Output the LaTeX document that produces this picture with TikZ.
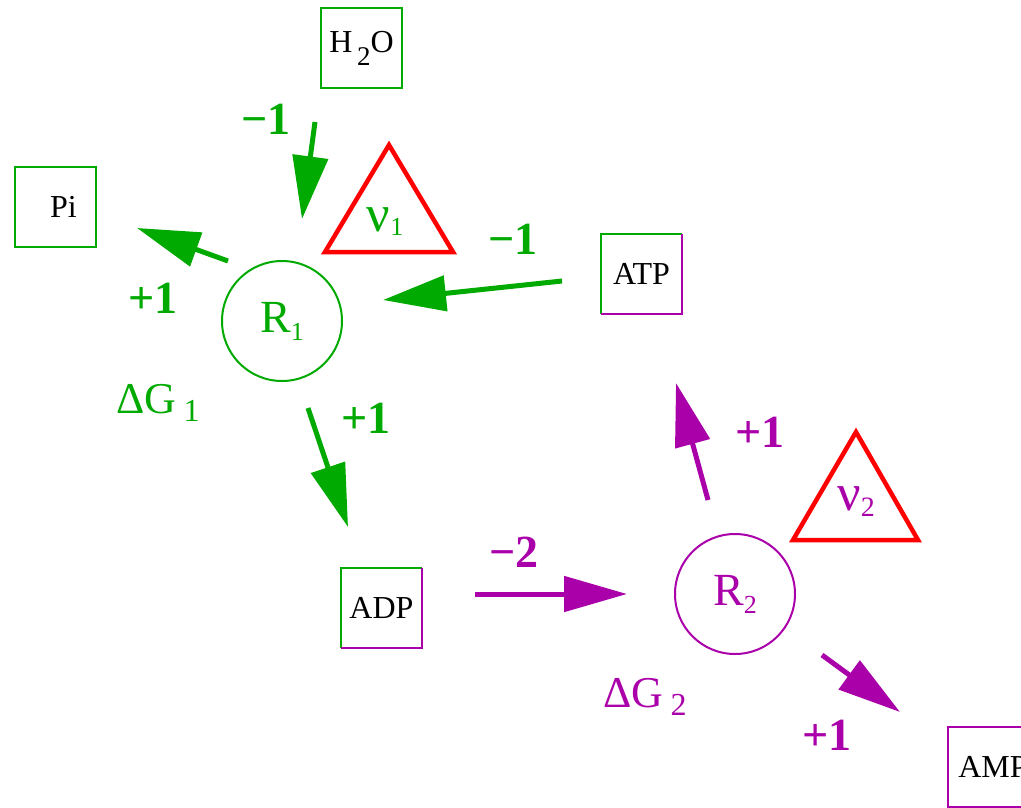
\documentclass[tikz,border=0pt]{standalone}
\usepackage{fontspec}
\setmainfont{Liberation Serif}
\usetikzlibrary{arrows.meta}

\definecolor{grn}{RGB}{0,170,0}
\definecolor{mag}{RGB}{170,0,170}

% lowered small index (subscripts)
\newcommand{\lowidx}[3]{\raisebox{-#1}{\fontsize{#2}{#2}\selectfont #3}}

\tikzset{
	box/.style={minimum width=81pt, minimum height=80pt, inner sep=0pt, font=\fontsize{32}{32}\selectfont},
	rxn/.style={circle, draw, line width=2pt, minimum size=120pt, inner sep=0pt, font=\fontsize{46}{46}\selectfont},
	flux/.style={line width=5pt, -{Triangle[length=63pt,width=35pt]}},
	coef/.style={font=\bfseries\fontsize{46}{46}\selectfont},
	dg/.style={anchor=base west, inner sep=0pt, font=\fontsize{44}{44}\selectfont},
	nu/.style={red, line width=4.5pt, line join=miter},
}

\begin{document}
\begin{tikzpicture}[x=1pt, y=-1pt]
	\useasboundingbox (0,0) rectangle (1021,807);
	\clip (0,0) rectangle (1021,807);
	
	% metabolites
	\node[box, draw=grn, line width=2pt] (h2o) at (361.5,48) {H\lowidx{13pt}{27}{\,2}O};
	\node[box, draw=grn, line width=2pt] (pi) at (55.5,207) {\hspace*{16pt}Pi};
	\node[box] (atp) at (641.5,274) {ATP};
	\node[box] (adp) at (381.5,608) {ADP};
	\node[box, draw=mag, line width=2pt] (amp) at (988,767) {\hspace*{10pt}AMP};
	
	% ATP and ADP take part in both reactions: half green, half magenta
	\foreach \m in {atp,adp} {
		\draw[grn, line width=2pt] (\m.south west) -- (\m.north west) -- (\m.north east);
		\draw[mag, line width=2pt] (\m.north east) -- (\m.south east) -- (\m.south west);
	}
	
	% reactions
	\node[rxn, draw=grn, text=grn] (r1) at (282,321) {R\lowidx{8pt}{26}{1}};
	\node[rxn, draw=mag, text=mag] (r2) at (735,594) {R\lowidx{8pt}{26}{2}};
	\node[dg, text=grn] (dg1) at (116,413) {ΔG\,\lowidx{8pt}{32}{1}};
	\node[dg, text=mag] (dg2) at (603,707) {ΔG\,\lowidx{8pt}{32}{2}};
	
	% rates
	\draw[nu] (325,252) -- (389,145) -- (453,252) -- cycle;
	\draw[nu] (793,540) -- (856,432) -- (918,540) -- cycle;
	\node[text=grn, font=\fontsize{52}{52}\selectfont] (nu1) at (385,222) {ν\lowidx{4pt}{26}{1}};
	\node[text=mag, font=\fontsize{52}{52}\selectfont] (nu2) at (856,502) {ν\lowidx{6pt}{28}{2}};
	
	% arrow ends
	\coordinate (h2o-out) at (315,122);  \coordinate (r1-in-n) at (302,219);
	\coordinate (r1-out-w) at (228,261); \coordinate (pi-in) at (137,228);
	\coordinate (atp-out) at (562,281);  \coordinate (r1-in-e) at (383,300);
	\coordinate (r1-out-s) at (308,408); \coordinate (adp-in) at (348,527);
	\coordinate (adp-out) at (475,594);  \coordinate (r2-in) at (627,594);
	\coordinate (r2-out-n) at (708,500); \coordinate (atp-in) at (676,383);
	\coordinate (r2-out-s) at (822,655); \coordinate (amp-in) at (900,712);
	
	% stoichiometry of R1
	\draw[flux, grn] (h2o-out) -- (r1-in-n);
	\draw[flux, grn] (r1-out-w) -- (pi-in);
	\draw[flux, grn] (atp-out) -- (r1-in-e);
	\draw[flux, grn] (r1-out-s) -- (adp-in);
	\node[coef, text=grn] (c11) at (266,119) {−1};
	\node[coef, text=grn] (c12) at (153,298) {+1};
	\node[coef, text=grn] (c13) at (513,239) {−1};
	\node[coef, text=grn] (c14) at (366,418) {+1};
	
	% stoichiometry of R2
	\draw[flux, mag] (adp-out) -- (r2-in);
	\draw[flux, mag] (r2-out-n) -- (atp-in);
	\draw[flux, mag] (r2-out-s) -- (amp-in);
	\node[coef, text=mag] (c21) at (514,552) {−2};
	\node[coef, text=mag] (c22) at (760,432) {+1};
	\node[coef, text=mag] (c23) at (827,735) {+1};
\end{tikzpicture}
\end{document}
